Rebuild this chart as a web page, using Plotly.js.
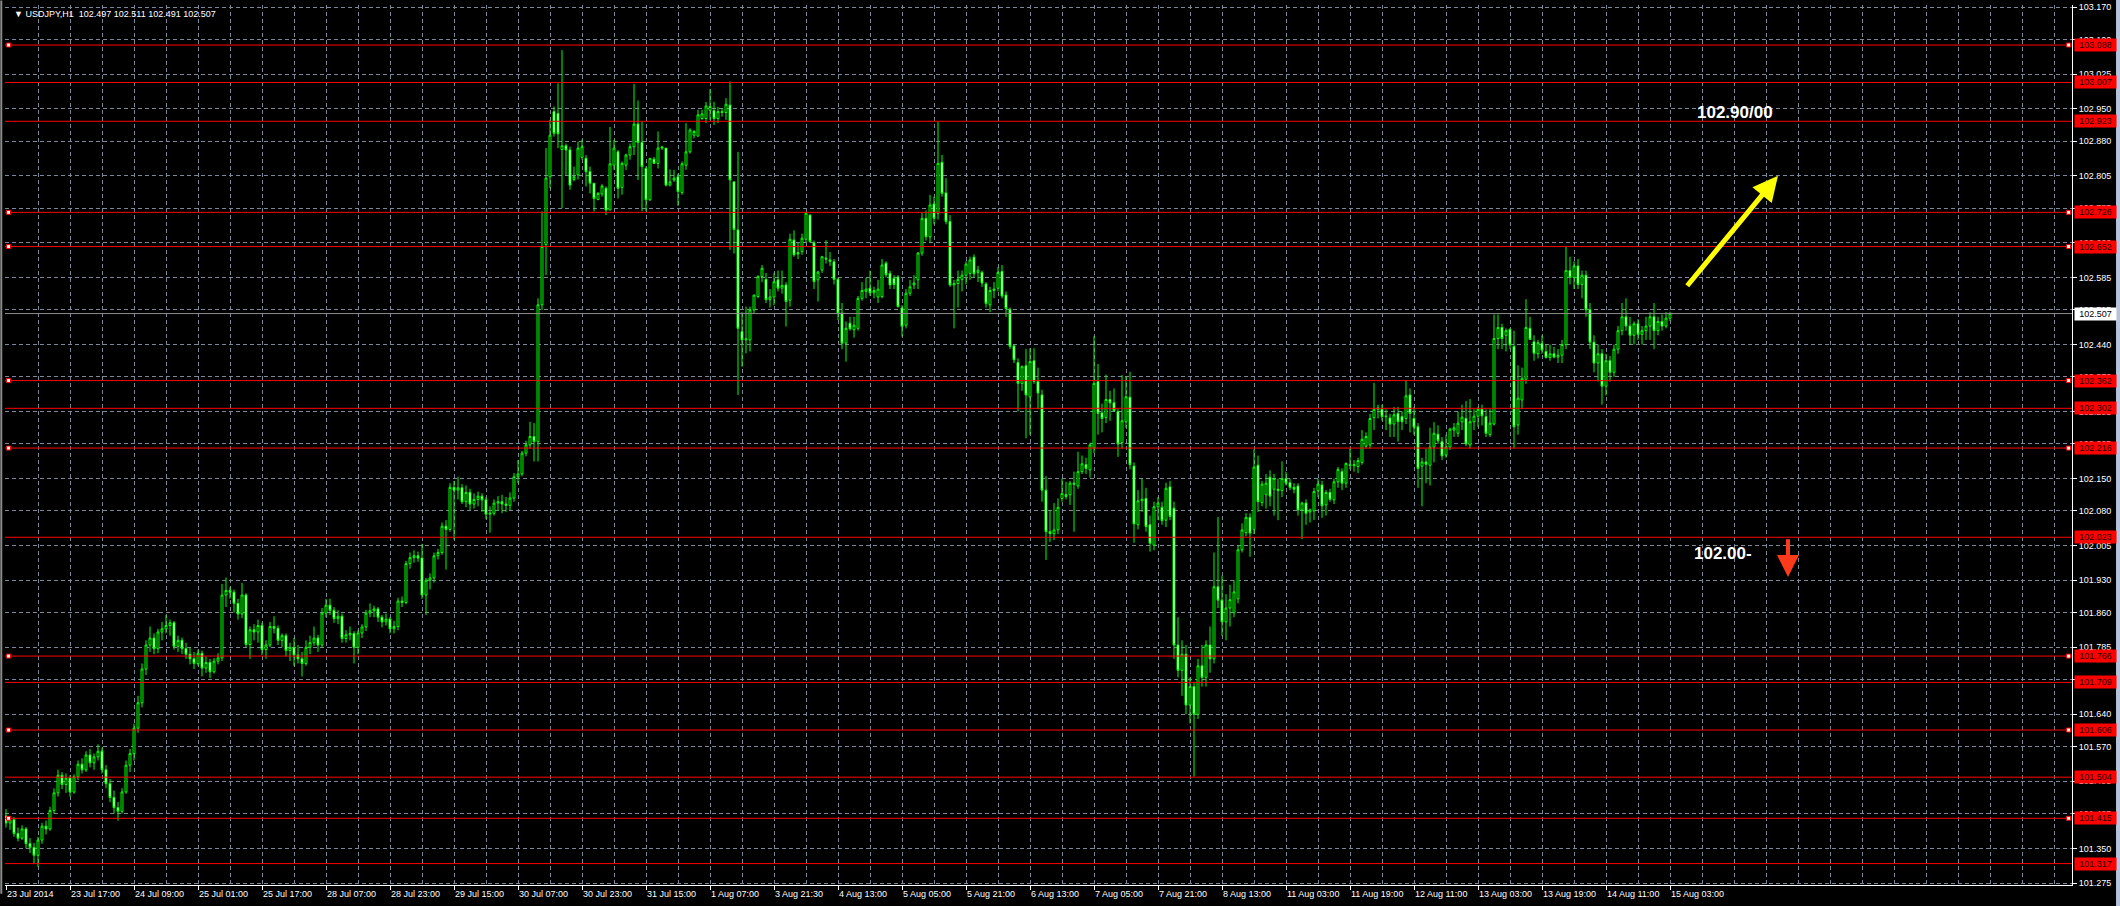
<!DOCTYPE html>
<html><head><meta charset="utf-8">
<script src="https://cdn.plot.ly/plotly-3.0.1.min.js"></script>
<style>html,body{margin:0;padding:0;background:#000;overflow:hidden}#chart{width:2120px;height:906px}</style>
</head><body><div id="chart"></div>
<script>
const symbol = 'USDJPY,H1';
const open = [
101.420,101.405,101.412,101.382,101.372,101.392,101.360,101.352,101.335,101.368,
101.398,101.392,101.432,101.470,101.508,101.488,101.502,101.472,101.505,101.532,
101.520,101.552,101.535,101.548,101.560,101.520,101.490,101.460,101.438,101.430,
101.472,101.530,101.555,101.610,101.665,101.738,101.790,101.805,101.782,101.818,
101.825,101.832,101.838,101.787,101.800,101.782,101.770,101.760,101.750,101.772,
101.740,101.752,101.732,101.755,101.762,101.898,101.908,101.904,101.880,101.857,
101.898,101.791,101.823,101.818,101.832,101.780,101.790,101.830,101.826,101.800,
101.810,101.778,101.785,101.768,101.760,101.750,101.785,101.795,101.805,101.790,
101.859,101.876,101.865,101.847,101.852,101.804,101.812,101.815,101.785,101.816,
101.829,101.859,101.864,101.868,101.850,101.840,101.846,101.825,101.830,101.885,
101.882,101.966,101.979,101.983,101.978,101.898,101.930,101.935,101.983,101.990,
102.047,102.040,102.131,102.125,102.130,102.100,102.120,102.095,102.105,102.112,
102.104,102.073,102.075,102.097,102.100,102.095,102.092,102.108,102.154,102.160,
102.205,102.223,102.241,102.230,102.526,102.656,102.803,102.944,102.940,102.862,
102.870,102.861,102.797,102.807,102.845,102.843,102.814,102.789,102.754,102.766,
102.778,102.731,102.828,102.857,102.780,102.828,102.850,102.868,102.917,102.877,
102.821,102.753,102.841,102.832,102.865,102.865,102.785,102.796,102.803,102.769,
102.828,102.857,102.893,102.891,102.929,102.929,102.947,102.946,102.929,102.942,
102.942,102.958,102.792,102.688,102.468,102.450,102.450,102.515,102.544,102.587,
102.581,102.537,102.543,102.580,102.562,102.569,102.536,102.666,102.639,102.641,
102.668,102.720,102.660,102.580,102.601,102.627,102.623,102.619,102.581,102.508,
102.443,102.486,102.472,102.475,102.540,102.555,102.562,102.552,102.543,102.544,
102.616,102.594,102.583,102.586,102.519,102.482,102.551,102.569,102.580,102.638,
102.713,102.673,102.744,102.724,102.834,102.768,102.706,102.569,102.572,102.581,
102.590,102.594,102.629,102.596,102.596,102.571,102.526,102.557,102.562,102.598,
102.547,102.516,102.437,102.401,102.356,102.394,102.327,102.405,102.360,102.331,
102.125,102.035,102.031,102.039,102.107,102.115,102.115,102.140,102.134,102.165,
102.180,102.169,102.216,102.360,102.292,102.282,102.321,102.314,102.295,102.228,
102.273,102.326,102.177,102.050,102.102,102.107,102.050,102.006,102.089,102.088,
102.060,102.132,102.086,101.790,101.735,101.770,101.660,101.700,101.640,101.745,
101.720,101.790,101.760,101.916,101.887,101.840,101.870,101.860,101.890,101.996,
102.033,102.066,102.040,102.179,102.098,102.115,102.153,102.127,102.127,102.124,
102.150,102.141,102.131,102.134,102.082,102.097,102.078,102.080,102.124,102.136,
102.093,102.120,102.104,102.143,102.165,102.140,102.180,102.178,102.176,102.185,
102.220,102.223,102.282,102.300,102.300,102.284,102.281,102.268,102.291,102.284,
102.280,102.331,102.280,102.262,102.177,102.186,102.179,102.218,102.246,102.230,
102.201,102.218,102.255,102.248,102.273,102.280,102.223,102.273,102.285,102.300,
102.284,102.245,102.268,102.453,102.477,102.460,102.473,102.436,102.266,102.320,
102.365,102.475,102.446,102.420,102.442,102.425,102.412,102.420,102.413,102.417,
102.440,102.600,102.585,102.610,102.570,102.590,102.515,102.445,102.400,102.420,
102.350,102.405,102.380,102.430,102.470,102.500,102.480,102.460,102.485,102.462,
102.470,102.480,102.500,102.470,102.490,102.480,102.497];
const high = [
101.435,101.420,101.418,101.395,101.400,101.396,101.372,101.362,101.375,101.405,
101.410,101.440,101.480,101.520,101.515,101.512,101.508,101.510,101.540,101.545,
101.560,101.565,101.555,101.575,101.568,101.530,101.500,101.475,101.450,101.480,
101.540,101.565,101.620,101.680,101.750,101.800,101.830,101.815,101.825,101.840,
101.855,101.845,101.842,101.810,101.806,101.795,101.785,101.775,101.780,101.778,
101.765,101.760,101.762,101.772,101.922,101.936,101.915,101.910,101.890,101.924,
101.902,101.830,101.835,101.845,101.838,101.800,101.840,101.852,101.832,101.815,
101.815,101.795,101.805,101.790,101.775,101.800,101.810,101.830,101.812,101.870,
101.890,101.890,101.872,101.865,101.858,101.822,101.830,101.820,101.822,101.835,
101.866,101.880,101.875,101.872,101.855,101.858,101.850,101.842,101.892,101.895,
101.972,101.990,101.995,101.992,102.009,101.935,101.945,101.990,101.998,102.055,
102.060,102.140,102.145,102.154,102.138,102.135,102.128,102.118,102.122,102.118,
102.110,102.090,102.105,102.112,102.115,102.110,102.120,102.162,102.190,102.210,
102.232,102.273,102.270,102.540,102.728,102.865,102.926,102.955,103.005,103.077,
102.875,102.868,102.825,102.879,102.883,102.850,102.825,102.789,102.770,102.787,
102.782,102.911,102.883,102.861,102.836,102.853,102.875,103.004,102.968,102.922,
102.825,102.843,102.846,102.901,102.870,102.865,102.819,102.818,102.810,102.836,
102.919,102.908,102.904,102.948,102.948,102.965,102.992,102.965,102.954,102.951,
102.973,103.009,102.792,102.857,102.510,102.522,102.522,102.548,102.590,102.612,
102.595,102.560,102.595,102.600,102.600,102.575,102.680,102.687,102.660,102.680,
102.727,102.722,102.665,102.600,102.632,102.666,102.640,102.625,102.585,102.530,
102.490,102.500,102.500,102.545,102.575,102.585,102.600,102.565,102.580,102.625,
102.620,102.600,102.590,102.590,102.525,102.560,102.580,102.590,102.640,102.725,
102.730,102.764,102.760,102.922,102.850,102.800,102.720,102.580,102.600,102.600,
102.620,102.630,102.635,102.610,102.600,102.575,102.565,102.575,102.608,102.612,
102.555,102.520,102.440,102.410,102.395,102.430,102.432,102.432,102.390,102.342,
102.155,102.082,102.097,102.107,102.150,102.143,102.145,102.165,102.208,102.200,
102.195,102.228,102.458,102.398,102.312,102.375,102.340,102.345,102.300,102.374,
102.370,102.381,102.185,102.125,102.150,102.130,102.070,102.100,102.110,102.100,
102.141,102.145,102.100,101.850,101.800,101.790,101.720,101.710,101.760,101.790,
101.800,101.830,101.990,102.067,101.940,101.900,101.920,101.930,102.005,102.053,
102.075,102.075,102.213,102.200,102.145,102.160,102.168,102.160,102.150,102.187,
102.165,102.150,102.140,102.140,102.100,102.105,102.085,102.130,102.150,102.145,
102.125,102.128,102.150,102.175,102.172,102.185,102.215,102.190,102.195,102.255,
102.250,102.290,102.357,102.310,102.310,102.300,102.290,102.305,102.305,102.295,
102.362,102.345,102.305,102.270,102.195,102.215,102.260,102.272,102.265,102.240,
102.245,102.260,102.270,102.295,102.310,102.318,102.322,102.300,102.305,102.310,
102.300,102.300,102.505,102.505,102.485,102.475,102.475,102.470,102.395,102.390,
102.538,102.500,102.460,102.450,102.460,102.440,102.440,102.435,102.430,102.450,
102.652,102.630,102.620,102.625,102.600,102.600,102.530,102.460,102.440,102.430,
102.420,102.415,102.440,102.480,102.530,102.540,102.500,102.490,102.495,102.480,
102.500,102.510,102.530,102.500,102.505,102.510,102.511];
const low = [
101.395,101.390,101.375,101.365,101.368,101.350,101.340,101.318,101.310,101.360,
101.380,101.388,101.425,101.462,101.478,101.470,101.462,101.468,101.498,101.512,
101.515,101.525,101.520,101.540,101.512,101.480,101.450,101.425,101.410,101.425,
101.468,101.515,101.540,101.600,101.655,101.725,101.775,101.770,101.772,101.800,
101.815,101.810,101.780,101.775,101.770,101.760,101.748,101.738,101.745,101.722,
101.730,101.718,101.728,101.748,101.755,101.872,101.890,101.860,101.845,101.848,
101.785,101.760,101.800,101.795,101.768,101.760,101.785,101.815,101.790,101.785,
101.765,101.755,101.745,101.750,101.722,101.745,101.770,101.788,101.775,101.785,
101.850,101.855,101.838,101.835,101.795,101.795,101.800,101.750,101.770,101.805,
101.820,101.850,101.850,101.840,101.828,101.832,101.815,101.815,101.822,101.872,
101.878,101.955,101.968,101.970,101.890,101.855,101.910,101.925,101.975,101.985,
101.953,102.035,102.018,102.105,102.095,102.088,102.082,102.085,102.090,102.078,
102.062,102.033,102.070,102.080,102.075,102.078,102.082,102.100,102.140,102.155,
102.198,102.215,102.187,102.187,102.515,102.590,102.778,102.890,102.865,102.735,
102.807,102.775,102.793,102.797,102.840,102.782,102.767,102.728,102.752,102.760,
102.720,102.731,102.818,102.756,102.764,102.818,102.840,102.850,102.796,102.728,
102.728,102.751,102.830,102.821,102.861,102.782,102.782,102.792,102.740,102.764,
102.818,102.853,102.886,102.890,102.926,102.919,102.926,102.915,102.919,102.933,
102.926,102.645,102.637,102.331,102.392,102.421,102.425,102.507,102.540,102.575,
102.530,102.520,102.525,102.555,102.550,102.479,102.522,102.630,102.625,102.634,
102.660,102.660,102.560,102.533,102.595,102.615,102.610,102.570,102.493,102.430,
102.403,102.470,102.455,102.470,102.535,102.540,102.545,102.540,102.530,102.540,
102.585,102.560,102.560,102.520,102.457,102.475,102.545,102.560,102.560,102.632,
102.665,102.660,102.700,102.710,102.760,102.700,102.565,102.475,102.520,102.555,
102.570,102.580,102.585,102.575,102.565,102.520,102.510,102.540,102.555,102.540,
102.500,102.430,102.400,102.295,102.340,102.237,102.245,102.355,102.300,102.100,
101.974,102.013,102.017,102.030,102.100,102.105,102.093,102.035,102.128,102.160,
102.160,102.152,102.205,102.245,102.250,102.270,102.275,102.295,102.197,102.215,
102.260,102.170,102.011,102.040,102.078,102.035,101.992,101.995,102.060,102.050,
102.045,102.060,101.760,101.720,101.680,101.640,101.620,101.505,101.630,101.700,
101.700,101.730,101.750,101.870,101.810,101.800,101.830,101.850,101.880,101.990,
102.025,101.981,102.030,102.078,102.090,102.085,102.090,102.070,102.060,102.110,
102.135,102.125,102.118,102.070,102.019,102.050,102.055,102.060,102.110,102.065,
102.070,102.100,102.095,102.130,102.125,102.130,102.170,102.165,102.162,102.180,
102.215,102.215,102.255,102.280,102.275,102.255,102.240,102.240,102.230,102.255,
102.268,102.250,102.245,102.130,102.090,102.140,102.135,102.185,102.225,102.190,
102.195,102.212,102.240,102.240,102.255,102.220,102.215,102.255,102.262,102.265,
102.240,102.240,102.265,102.430,102.430,102.425,102.430,102.215,102.245,102.300,
102.355,102.450,102.405,102.410,102.420,102.410,102.405,102.410,102.400,102.400,
102.430,102.570,102.560,102.560,102.540,102.500,102.430,102.380,102.360,102.310,
102.330,102.360,102.370,102.420,102.460,102.470,102.440,102.440,102.450,102.440,
102.450,102.450,102.430,102.460,102.470,102.475,102.491];
const close = [
101.405,101.412,101.382,101.372,101.392,101.360,101.352,101.335,101.368,101.398,
101.392,101.432,101.470,101.508,101.488,101.502,101.472,101.505,101.532,101.520,
101.552,101.535,101.548,101.560,101.520,101.490,101.460,101.438,101.430,101.472,
101.530,101.555,101.610,101.665,101.738,101.790,101.805,101.782,101.818,101.825,
101.832,101.838,101.787,101.800,101.782,101.770,101.760,101.750,101.772,101.740,
101.752,101.732,101.755,101.762,101.898,101.908,101.904,101.880,101.857,101.898,
101.791,101.823,101.818,101.832,101.780,101.790,101.830,101.826,101.800,101.810,
101.778,101.785,101.768,101.760,101.750,101.785,101.795,101.805,101.790,101.859,
101.876,101.865,101.847,101.852,101.804,101.812,101.815,101.785,101.816,101.829,
101.859,101.864,101.868,101.850,101.840,101.846,101.825,101.830,101.885,101.882,
101.966,101.979,101.983,101.978,101.898,101.930,101.935,101.983,101.990,102.047,
102.040,102.131,102.125,102.130,102.100,102.120,102.095,102.105,102.112,102.104,
102.073,102.075,102.097,102.100,102.095,102.092,102.108,102.154,102.160,102.205,
102.223,102.241,102.230,102.526,102.652,102.800,102.893,102.897,102.896,102.870,
102.861,102.785,102.803,102.865,102.868,102.814,102.789,102.756,102.767,102.783,
102.731,102.831,102.865,102.778,102.832,102.850,102.868,102.917,102.877,102.825,
102.753,102.843,102.832,102.865,102.867,102.785,102.792,102.800,102.771,102.831,
102.857,102.904,102.901,102.937,102.939,102.956,102.955,102.929,102.944,102.944,
102.960,102.796,102.689,102.475,102.450,102.452,102.515,102.547,102.587,102.605,
102.537,102.543,102.576,102.562,102.568,102.533,102.668,102.634,102.636,102.670,
102.724,102.663,102.576,102.597,102.630,102.625,102.620,102.581,102.508,102.443,
102.475,102.474,102.482,102.540,102.557,102.560,102.552,102.557,102.560,102.612,
102.591,102.569,102.570,102.522,102.479,102.551,102.565,102.573,102.638,102.713,
102.673,102.742,102.713,102.832,102.767,102.706,102.569,102.572,102.581,102.590,
102.614,102.623,102.593,102.601,102.573,102.529,102.557,102.560,102.596,102.545,
102.518,102.436,102.407,102.356,102.392,102.331,102.403,102.360,102.335,102.125,
102.035,102.031,102.039,102.088,102.118,102.111,102.140,102.138,102.165,102.182,
102.172,102.223,102.356,102.291,102.280,102.321,102.314,102.297,102.225,102.275,
102.327,102.180,102.052,102.102,102.105,102.046,102.010,102.089,102.097,102.059,
102.129,102.068,101.790,101.735,101.770,101.660,101.700,101.640,101.745,101.720,
101.790,101.760,101.916,101.887,101.840,101.870,101.888,101.905,101.996,102.039,
102.066,102.032,102.175,102.100,102.138,102.140,102.112,102.150,102.124,102.150,
102.140,102.131,102.127,102.082,102.097,102.075,102.082,102.122,102.138,102.091,
102.120,102.105,102.143,102.170,102.140,102.183,102.178,102.180,102.189,102.235,
102.241,102.280,102.300,102.303,102.284,102.285,102.268,102.288,102.273,102.273,
102.329,102.291,102.261,102.172,102.186,102.181,102.218,102.248,102.232,102.199,
102.218,102.257,102.260,102.270,102.283,102.225,102.273,102.285,102.300,102.286,
102.248,102.270,102.453,102.477,102.453,102.470,102.439,102.262,102.324,102.367,
102.477,102.451,102.421,102.444,102.428,102.412,102.420,102.413,102.417,102.440,
102.600,102.585,102.610,102.570,102.590,102.515,102.445,102.400,102.420,102.350,
102.405,102.380,102.430,102.470,102.500,102.480,102.460,102.485,102.462,102.470,
102.480,102.500,102.470,102.490,102.480,102.497,102.507];

const xTickIdx = [0,16,32,48,64,80,96,112,128,144,160,176,192,208,224,240,256,272,288,304,320,336,352,368,384,400,416];
const xTickLabels = ['23 Jul 2014','23 Jul 17:00','24 Jul 09:00','25 Jul 01:00','25 Jul 17:00','28 Jul 07:00','28 Jul 23:00','29 Jul 15:00','30 Jul 07:00','30 Jul 23:00','31 Jul 15:00','1 Aug 07:00','3 Aug 21:30','4 Aug 13:00','5 Aug 05:00','5 Aug 21:00','6 Aug 13:00','7 Aug 05:00','7 Aug 21:00','8 Aug 13:00','11 Aug 03:00','11 Aug 19:00','12 Aug 11:00','13 Aug 03:00','13 Aug 19:00','14 Aug 11:00','15 Aug 03:00'];
const yTicks = [103.170,103.100,103.025,102.950,102.880,102.805,102.735,102.660,102.585,102.515,102.440,102.370,102.295,102.225,102.150,102.080,102.005,101.930,101.860,101.785,101.715,101.640,101.570,101.495,101.425,101.350,101.275];
const levels = [103.088,103.007,102.923,102.726,102.652,102.362,102.302,102.216,102.023,101.766,101.709,101.606,101.504,101.415,101.317];
const flaggedLevels = [103.088,102.726,102.652,102.362,102.216,101.766,101.606,101.415];
const lastPrice = 102.507;
const upTargetText = '102.90/00';
const downTargetText = '102.00-';

const FONT = 'Liberation Sans, Arial, sans-serif';
const GRID = '#7e8799';
const idx = open.map((_, i) => i);
const n = open.length - 1;

const trace = {
  type: 'candlestick', x: idx, open: open, high: high, low: low, close: close,
  increasing: {line: {color: '#00ff00', width: 1}, fillcolor: '#000000'},
  decreasing: {line: {color: '#00ff00', width: 1}, fillcolor: '#ffffff'},
  whiskerwidth: 0, hoverinfo: 'skip', showlegend: false
};

const shapes = [];
levels.forEach(v => shapes.push({type: 'line', xref: 'paper', x0: 0, x1: 1, yref: 'y', y0: v, y1: v, line: {color: '#ff0000', width: 1}}));
shapes.push({type: 'line', xref: 'paper', x0: 0, x1: 1, yref: 'y', y0: lastPrice, y1: lastPrice, line: {color: '#8c8c8c', width: 1}});
flaggedLevels.forEach(v => {
  shapes.push({type: 'rect', xref: 'paper', xsizemode: 'pixel', xanchor: 0, x0: 1.5, x1: 5.5, yref: 'y', ysizemode: 'pixel', yanchor: v, y0: -2, y1: 2, fillcolor: '#ffffff', line: {color: '#ff0000', width: 1}});
  shapes.push({type: 'rect', xref: 'paper', xsizemode: 'pixel', xanchor: 1, x0: -5.5, x1: -1.5, yref: 'y', ysizemode: 'pixel', yanchor: v, y0: -2, y1: 2, fillcolor: '#ffffff', line: {color: '#ff0000', width: 1}});
});
// window frame pieces
shapes.push({type: 'rect', xref: 'paper', yref: 'paper', x0: 1.0213, x1: 1.0235, y0: -0.03, y1: 1.01, fillcolor: '#b4c4dc', line: {width: 0}, layer: 'below'});
shapes.push({type: 'line', xref: 'paper', yref: 'paper', x0: -0.0018, x1: -0.0018, y0: -0.01, y1: 1.005, line: {color: '#8a8a8a', width: 2}});

const annotations = [];
levels.forEach(v => annotations.push({xref: 'paper', x: 1, xanchor: 'left', xshift: 2, yref: 'y', y: v, yanchor: 'middle', text: v.toFixed(3), showarrow: false, bgcolor: '#ff0000', font: {family: FONT, size: 9, color: '#2a0000'}, width: 41, height: 12, align: 'center', borderpad: 0}));
annotations.push({xref: 'paper', x: 1, xanchor: 'left', xshift: 2, yref: 'y', y: lastPrice, yanchor: 'middle', text: lastPrice.toFixed(3), showarrow: false, bgcolor: '#ffffff', font: {family: FONT, size: 9, color: '#000000'}, width: 41, height: 12, align: 'center', borderpad: 0});
annotations.push({xref: 'paper', yref: 'paper', x: 0.0034, y: 0.9898, xanchor: 'left', yanchor: 'middle', showarrow: false,
  text: '\u25BC ' + symbol + '\u00a0\u00a0' + open[n].toFixed(3) + ' ' + high[n].toFixed(3) + ' ' + low[n].toFixed(3) + ' ' + close[n].toFixed(3),
  font: {family: FONT, size: 9, color: '#ffffff'}});
annotations.push({xref: 'x', yref: 'y', x: 432.25, y: 102.941, text: '<b>' + upTargetText + '</b>', showarrow: false, font: {family: FONT, size: 17, color: '#ffffff'}});
annotations.push({xref: 'x', yref: 'y', x: 429.25, y: 101.989, text: '<b>' + downTargetText + '</b>', showarrow: false, font: {family: FONT, size: 17, color: '#ffffff'}});
annotations.push({xref: 'x', yref: 'y', x: 443, y: 102.805, axref: 'x', ayref: 'y', ax: 420, ay: 102.564, text: '', showarrow: true, arrowhead: 2, arrowsize: 1, arrowwidth: 5, arrowcolor: '#ffff00'});
annotations.push({xref: 'x', yref: 'y', x: 445.5, y: 101.937, axref: 'x', ayref: 'y', ax: 445.5, ay: 102.022, text: '', showarrow: true, arrowhead: 2, arrowsize: 1.1, arrowwidth: 4, arrowcolor: '#ff3a1a'});

const layout = {
  width: 2120, height: 906,
  paper_bgcolor: '#000000', plot_bgcolor: '#000000',
  margin: {l: 5, r: 48, t: 5, b: 21},
  showlegend: false, hovermode: false, boxgap: 0.3,
  xaxis: {
    range: [-0.25, 516.5], rangeslider: {visible: false}, fixedrange: true,
    tickmode: 'array', tickvals: xTickIdx, ticktext: xTickLabels,
    ticks: 'outside', ticklen: 4, tickcolor: '#ffffff', tickwidth: 1,
    ticklabelposition: 'outside right',
    tickfont: {family: FONT, size: 9, color: '#ffffff'},
    showgrid: true, gridcolor: GRID, griddash: '4px,3px', gridwidth: 1,
    minor: {tickmode: 'linear', tick0: 0, dtick: 8, showgrid: true, gridcolor: GRID, griddash: '4px,3px', gridwidth: 1, ticks: ''},
    showline: true, linecolor: '#ffffff', linewidth: 1, zeroline: false
  },
  yaxis: {
    side: 'right', range: [101.2707, 103.1746], fixedrange: true,
    tickmode: 'array', tickvals: yTicks, tickformat: '.3f',
    ticks: 'outside', ticklen: 4, tickcolor: '#ffffff', tickwidth: 1,
    tickfont: {family: FONT, size: 9, color: '#ffffff'},
    showgrid: true, gridcolor: GRID, griddash: '4px,3px', gridwidth: 1,
    showline: true, linecolor: '#ffffff', linewidth: 1, zeroline: false
  },
  shapes: shapes,
  annotations: annotations
};

Plotly.newPlot('chart', [trace], layout, {staticPlot: true, displayModeBar: false});
</script>
</body></html>
